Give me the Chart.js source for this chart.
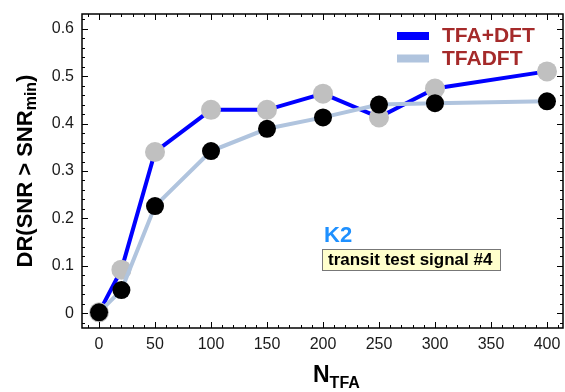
<!DOCTYPE html>
<html>
<head>
<meta charset="utf-8">
<script src="https://cdn.jsdelivr.net/npm/chart.js@4.4.1/dist/chart.umd.min.js"></script>
<style>
  html, body { margin: 0; padding: 0; background: #fff; }
  #wrap { width: 565px; height: 392px; }
</style>
</head>
<body>
<div id="wrap"><canvas id="dr-chart" width="565" height="392"></canvas></div>
<script>
// number of TFA templates vs detection rate
const nTfa = [0, 20, 50, 100, 150, 200, 250, 300, 400];
const drTfaPlusDft = [0.002, 0.092, 0.340, 0.429, 0.429, 0.463, 0.413, 0.474, 0.510];
const drTfadft = [0.002, 0.049, 0.226, 0.342, 0.389, 0.413, 0.440, 0.443, 0.447];

const xTicks = [0, 50, 100, 150, 200, 250, 300, 350, 400];
const xTickLabels = ['0', '50', '100', '150', '200', '250', '300', '350', '400'];
const yTicks = [0, 0.1, 0.2, 0.3, 0.4, 0.5, 0.6];
const yTickLabels = ['0', '0.1', '0.2', '0.3', '0.4', '0.5', '0.6'];

const FONT = '"Liberation Sans", Arial, sans-serif';

function toPoints(xs, ys) {
  return xs.map((x, i) => ({ x: x, y: ys[i] }));
}

// fixed scale sizes, no extra room for overhanging tick labels
function fixSize(s, w, h) {
  if (w) s.width = w;
  if (h) s.height = h;
  s.paddingTop = s.paddingBottom = s.paddingLeft = s.paddingRight = 0;
}

// frame with inward ticks on all four sides, titles, legend and labels
const framePlugin = {
  id: 'frame',
  afterDraw(chart) {
    const ctx = chart.ctx;
    const a = chart.chartArea;
    const xs = chart.scales.x, ys = chart.scales.y;
    ctx.save();
    ctx.strokeStyle = '#000';
    ctx.lineWidth = 1.5;
    ctx.strokeRect(a.left, a.top, a.right - a.left, a.bottom - a.top);

    ctx.lineWidth = 1;
    ctx.beginPath();
    for (let v = -10; v <= 410; v += 10) {
      const px = Math.round(xs.getPixelForValue(v)) + 0.5;
      const len = xTicks.includes(v) ? 6 : 3;
      ctx.moveTo(px, a.bottom); ctx.lineTo(px, a.bottom - len);
      ctx.moveTo(px, a.top); ctx.lineTo(px, a.top + len);
    }
    for (let k = -1; k <= 31; k++) {
      const v = k / 50;
      const py = Math.round(ys.getPixelForValue(v)) + 0.5;
      const len = k % 5 === 0 ? 6 : 3;
      ctx.moveTo(a.left, py); ctx.lineTo(a.left + len, py);
      ctx.moveTo(a.right, py); ctx.lineTo(a.right - len, py);
    }
    ctx.stroke();

    // axis titles with subscripts
    ctx.fillStyle = '#000';
    ctx.textBaseline = 'alphabetic';
    ctx.textAlign = 'left';
    ctx.font = 'bold 23px ' + FONT;
    ctx.fillText('N', 313, 382);
    const nW = ctx.measureText('N').width;
    ctx.font = 'bold 16px ' + FONT;
    ctx.fillText('TFA', 313 + nW, 388);

    ctx.save();
    ctx.translate(32, (a.top + a.bottom) / 2);
    ctx.rotate(-Math.PI / 2);
    const main = 'DR(SNR > SNR';
    ctx.font = 'bold 22px ' + FONT;
    const w1 = ctx.measureText(main).width;
    const w3 = ctx.measureText(')').width;
    ctx.font = 'bold 16px ' + FONT;
    const w2 = ctx.measureText('min').width;
    let x0 = -(w1 + w2 + w3) / 2;
    ctx.font = 'bold 22px ' + FONT;
    ctx.fillText(main, x0, 0);
    ctx.font = 'bold 16px ' + FONT;
    ctx.fillText('min', x0 + w1, 4);
    ctx.font = 'bold 22px ' + FONT;
    ctx.fillText(')', x0 + w1 + w2, 0);
    ctx.restore();

    // legend
    const rows = [chart.data.datasets[1], chart.data.datasets[0]];
    ctx.font = 'bold 21px ' + FONT;
    rows.forEach((ds, i) => {
      const cy = 36 + i * 22.5;
      ctx.fillStyle = ds.borderColor;
      ctx.fillRect(397, cy - 4, 32, 8);
      ctx.fillStyle = '#a52a2a';
      ctx.fillText(ds.label, 442, cy + 6);
    });

    // survey name and signal tag
    ctx.fillStyle = '#1e90ff';
    ctx.font = 'bold 22px ' + FONT;
    ctx.fillText('K2', 324, 242);

    ctx.fillStyle = '#ffffcc';
    ctx.fillRect(322.5, 249.5, 178, 21);
    ctx.strokeStyle = '#777';
    ctx.lineWidth = 1;
    ctx.strokeRect(322.5, 249.5, 178, 21);
    ctx.fillStyle = '#000';
    ctx.font = 'bold 17px ' + FONT;
    ctx.fillText('transit test signal #4', 328, 265);
    ctx.restore();
  }
};

const ctx = document.getElementById('dr-chart').getContext('2d');
new Chart(ctx, {
  type: 'line',
  data: {
    datasets: [
      {
        label: 'TFADFT',
        data: toPoints(nTfa, drTfadft),
        borderColor: '#b0c4de',
        borderWidth: 4,
        pointRadius: 9,
        pointBackgroundColor: '#000',
        pointBorderWidth: 0,
        order: 1
      },
      {
        label: 'TFA+DFT',
        data: toPoints(nTfa, drTfaPlusDft),
        borderColor: '#0000ff',
        borderWidth: 4,
        pointRadius: 10,
        pointBackgroundColor: '#c0c0c0',
        pointBorderWidth: 0,
        order: 2
      }
    ]
  },
  options: {
    responsive: false,
    devicePixelRatio: 1,
    animation: false,
    clip: false,
    layout: { autoPadding: false, padding: { top: 14, right: 2, left: 0, bottom: 0 } },
    plugins: {
      legend: { display: false },
      tooltip: { enabled: false }
    },
    scales: {
      x: {
        type: 'linear',
        min: -15.2,
        max: 414.3,
        grid: { display: false, drawTicks: false },
        border: { display: false },
        afterBuildTicks: s => { s.ticks = xTicks.map(v => ({ value: v })); },
        afterFit: s => fixSize(s, 0, 64),
        ticks: {
          padding: 7,
          color: '#1a1a1a',
          font: { family: FONT, size: 16 },
          maxRotation: 0,
          callback: (v) => xTickLabels[xTicks.indexOf(v)]
        }
      },
      y: {
        min: -0.031,
        max: 0.631,
        grid: { display: false, drawTicks: false },
        border: { display: false },
        afterBuildTicks: s => { s.ticks = yTicks.map(v => ({ value: v })); },
        afterFit: s => fixSize(s, 82, 0),
        ticks: {
          padding: 8,
          color: '#1a1a1a',
          font: { family: FONT, size: 16 },
          callback: (v) => yTickLabels[yTicks.findIndex(t => Math.abs(t - v) < 1e-9)]
        }
      }
    }
  },
  plugins: [framePlugin]
});
</script>
</body>
</html>
